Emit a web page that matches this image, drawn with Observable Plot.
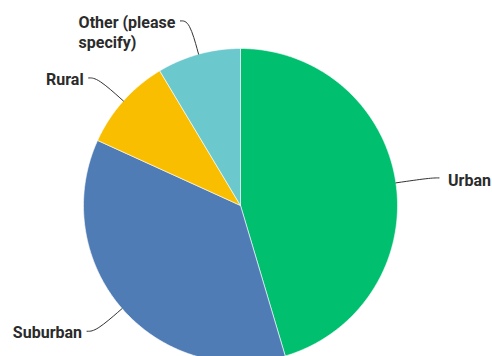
<!DOCTYPE html>
<html><head><meta charset="utf-8">
<script src="https://cdn.jsdelivr.net/npm/d3@7"></script>
<script src="https://cdn.jsdelivr.net/npm/@observablehq/plot@0.6"></script>
<style>html,body{margin:0;padding:0;background:#fff;overflow:hidden}</style>
</head><body><div id="chart"></div>
<script>
// ---- data ----
const categories = ["Urban", "Suburban", "Rural", "Other (please specify)"];
const labels = ["Urban", "Suburban", "Rural", "Other (please\nspecify)"];
const shares = [45.4, 36.4, 9.6, 8.6];
const colors = ["#00BF6F", "#507CB6", "#F9BE00", "#6BC8CD"];

// ---- layout ----
const W = 492, H = 356, CX = 240, CY = 205, R = 157;
const FONT_SIZE = 16, LINE_H = 20, FONT = "Roboto";

const rows = categories.map((c, i) => ({category: c, label: labels[i], share: shares[i]}));
const arcs = d3.pie().sort(null).value(d => d.share)(rows);

// wedge polygons in unit-radius data space (y up)
const wedges = [];
for (const a of arcs) {
  const c = a.data.category;
  wedges.push({category: c, x: 0, y: 0});
  const n = Math.max(2, Math.ceil((a.endAngle - a.startAngle) / (Math.PI / 360)));
  for (let k = 0; k <= n; k++) {
    const t = a.startAngle + (a.endAngle - a.startAngle) * k / n;
    wedges.push({category: c, x: Math.sin(t), y: Math.cos(t)});
  }
  wedges.push({category: c, x: 0, y: 0});
}

// leader lines and label anchors
const ctx = document.createElement("canvas").getContext("2d");
ctx.font = `bold ${FONT_SIZE}px ${FONT}`;
const leaders = [], labelRows = [];
for (const a of arcs) {
  const m = (a.startAngle + a.endAngle) / 2;
  const sx = Math.sin(m), sy = Math.cos(m);
  const side = sx >= 0 ? 1 : -1;
  const p0 = [sx, sy], p1 = [1.22 * sx, 1.22 * sy], p2 = [1.22 * sx + side * 9 / R, 1.22 * sy];
  for (const p of [p0, p1, p2]) leaders.push({category: a.data.category, x: p[0], y: p[1]});
  const lines = a.data.label.split("\n");
  const w = d3.max(lines, l => ctx.measureText(l).width);
  const gap = side > 0 ? 9 : 5;
  const xpx = side > 0 ? gap : -(gap + w);
  const ypx = (lines.length - 1) * LINE_H / 2 + (side > 0 ? 1.5 : 0.5);
  labelRows.push({label: a.data.label, x: p2[0] + xpx / R, y: p2[1] - ypx / R});
}

const chart = Plot.plot({
  width: W, height: H,
  marginTop: 0, marginRight: 0, marginBottom: 0, marginLeft: 0,
  x: {domain: [-CX / R, (W - CX) / R], range: [0, W], axis: null},
  y: {domain: [-(H - CY) / R, CY / R], range: [H, 0], axis: null},
  color: {domain: categories, range: colors},
  style: {fontFamily: FONT, background: "white"},
  marks: [
    Plot.line(wedges, {x: "x", y: "y", z: "category", fill: "category", stroke: "white", strokeWidth: 0.6, curve: "linear"}),
    Plot.line(leaders, {x: "x", y: "y", z: "category", stroke: "#333", strokeWidth: 1, curve: "basis"}),
    Plot.text(labelRows, {x: "x", y: "y", text: "label", textAnchor: "start", lineAnchor: "middle",
      fontSize: FONT_SIZE, fontWeight: 700, fill: "#2b2b2b", lineHeight: LINE_H / FONT_SIZE})
  ]
});
document.getElementById("chart").appendChild(chart);
</script>
</body></html>
